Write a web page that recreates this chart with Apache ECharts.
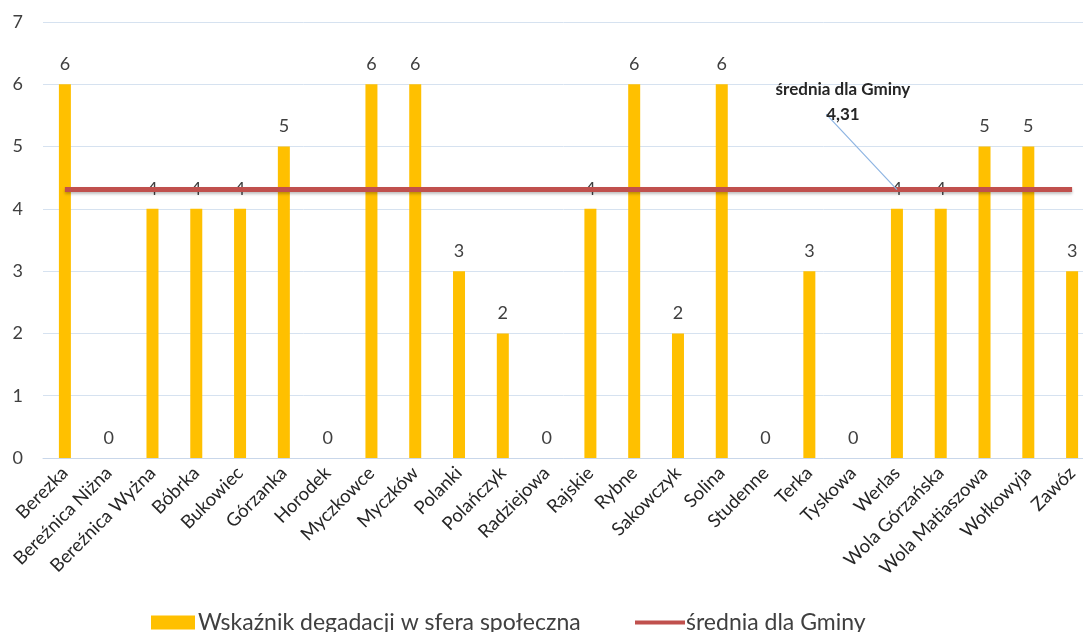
<!DOCTYPE html>
<html>
<head>
<meta charset="utf-8">
<script src="https://cdn.jsdelivr.net/npm/echarts@6/dist/echarts.min.js"></script>
<style>html,body{margin:0;padding:0;background:#fff;}#c{width:1083px;height:632px;}</style>
</head>
<body>
<div id="c"></div>
<script>
const categories = ['Berezka','Bereźnica Niżna','Bereźnica Wyżna','Bóbrka','Bukowiec','Górzanka','Horodek','Myczkowce','Myczków','Polanki','Polańczyk','Radziejowa','Rajskie','Rybne','Sakowczyk','Solina','Studenne','Terka','Tyskowa','Werlas','Wola Górzańska','Wola Matiaszowa','Wołkowyja','Zawóz'];
const indexValues = [6,0,4,4,4,5,0,6,6,3,2,0,4,6,2,6,0,3,0,4,4,5,5,3];
const averageValue = 4.31;
const averageTitle = 'średnia dla Gminy';
const averageText = '4,31';
const annotatedCategory = 'Werlas';
const yTicks = {min: 0, max: 7, interval: 1};

const avgData = categories.map(() => averageValue);
const annIdx = categories.indexOf(annotatedCategory);
const font = 'Lato, "Open Sans", sans-serif';
const BAR = 'Wskaźnik degadacji w sfera społeczna';
const LINE = 'średnia dla Gminy';

const chart = echarts.init(document.getElementById('c'));
chart.setOption({
  animation: false,
  textStyle: {fontFamily: font},
  grid: {left: 43, width: 1051, top: 22, bottom: 174, outerBoundsMode: 'none', containLabel: false},
  legend: [
    {
      data: [{name: BAR, icon: 'rect'}], left: 146, top: 606, itemWidth: 44, itemHeight: 14, itemGap: 6,
      textStyle: {fontSize: 23, color: '#404040', fontFamily: font, padding: [0, 0, 0, -2]}
    },
    {
      data: [{name: LINE, icon: 'rect'}], left: 630, top: 606, itemWidth: 50, itemHeight: 4,
      textStyle: {fontSize: 23, color: '#404040', fontFamily: font, padding: [0, 0, 0, -4]}
    }
  ],
  xAxis: {
    type: 'category', data: categories,
    axisLine: {show: true, lineStyle: {color: '#C9D7EA', width: 1}},
    axisTick: {show: false},
    axisLabel: {rotate: 45, interval: 0, fontSize: 18.5, color: '#262626', margin: 12, fontFamily: font}
  },
  yAxis: {
    type: 'value', min: yTicks.min, max: yTicks.max, interval: yTicks.interval,
    axisLine: {show: false}, axisTick: {show: false},
    axisLabel: {fontSize: 18, color: '#404040', margin: 20, fontFamily: font},
    splitLine: {lineStyle: {color: '#D6E2F0', width: 1}}
  },
  series: [
    {
      name: BAR, type: 'bar', data: indexValues,
      barWidth: 12,
      itemStyle: {color: '#FFC000'},
      label: {show: true, position: 'top', distance: 11, fontSize: 18, color: '#404040', fontFamily: font}
    },
    {
      name: LINE, type: 'line', data: avgData.map((v, i) => i === annIdx ? {
        value: v,
        label: {show: true, formatter: averageText, position: 'top', fontSize: 17, fontWeight: 'bold', color: '#262626', fontFamily: font}
      } : v),
      symbol: 'circle', symbolSize: 0, showSymbol: true,
      lineStyle: {color: '#C0504D', width: 5, shadowColor: 'rgba(0,0,0,0.25)', shadowBlur: 3, shadowOffsetY: 2},
      itemStyle: {color: '#C0504D'},
      label: {show: false},
      labelLine: {show: true, lineStyle: {color: '#8DB4E2', width: 1.2}},
      labelLayout: function (p) { return p.dataIndex === annIdx ? {dx: -54, dy: -62} : {}; },
      markPoint: {
        symbol: 'circle', symbolSize: 0, silent: true,
        data: [{coord: [annIdx, averageValue]}],
        label: {show: true, formatter: averageTitle, position: 'top', offset: [-54, -87], fontSize: 17, fontWeight: 'bold', color: '#262626', fontFamily: font}
      },
      z: 3
    }
  ]
});
</script>
</body>
</html>
